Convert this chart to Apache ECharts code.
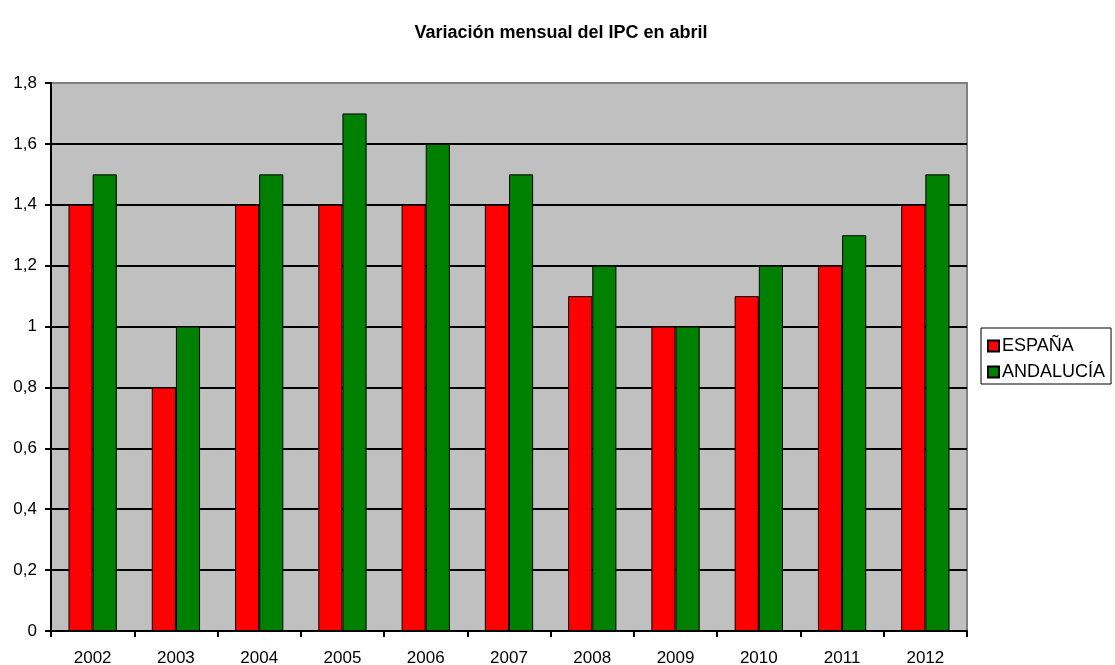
<!DOCTYPE html>
<html>
<head>
<meta charset="utf-8">
<script src="https://cdn.jsdelivr.net/npm/echarts@6/dist/echarts.min.js"></script>
<style>
  html, body { margin: 0; padding: 0; background: #fff; }
  #chart { width: 1115px; height: 665px; }
</style>
</head>
<body>
<div id="chart"></div>
<script>
var years = ['2002', '2003', '2004', '2005', '2006', '2007', '2008', '2009', '2010', '2011', '2012'];
var espana = [1.4, 0.8, 1.4, 1.4, 1.4, 1.4, 1.1, 1.0, 1.1, 1.2, 1.4];
var andalucia = [1.5, 1.0, 1.5, 1.7, 1.6, 1.5, 1.2, 1.0, 1.2, 1.3, 1.5];

var chart = echarts.init(document.getElementById('chart'), null, {renderer: 'canvas'});

var font = 'Liberation Sans, Arial, sans-serif';
// last grid line (top, at 1,8) is the gray plot border in the original
var lineColors = ['#000', '#000', '#000', '#000', '#000', '#000', '#000', '#000', '#000', '#808080'];

chart.setOption({
    animation: false,
    textStyle: {fontFamily: font},
    title: {
        text: 'Variación mensual del IPC en abril',
        left: 556,
        textAlign: 'center',
        top: 19,
        textStyle: {fontSize: 18, fontWeight: 'bold', color: '#000', fontFamily: font}
    },
    legend: {
        orient: 'vertical',
        left: 981,
        top: 328,
        itemWidth: 11,
        itemHeight: 11,
        itemGap: 8,
        padding: [9, 6, 3, 6],
        borderColor: '#000',
        borderWidth: 1,
        icon: 'rect',
        textStyle: {fontSize: 18, color: '#000', fontFamily: font, padding: [0, 0, 0, -2]},
        data: ['ESPAÑA', 'ANDALUCÍA']
    },
    grid: {
        left: 51,
        top: 83,
        width: 916,
        height: 548,
        containLabel: false,
        outerBoundsMode: 'none',
        show: true,
        backgroundColor: '#C0C0C0',
        borderColor: '#808080',
        borderWidth: 2
    },
    xAxis: {
        type: 'category',
        data: years,
        axisLine: {lineStyle: {color: '#000', width: 2}},
        axisTick: {show: true, length: 6, lineStyle: {color: '#000', width: 2}},
        axisLabel: {fontSize: 17, color: '#000', margin: 19, fontFamily: font}
    },
    yAxis: {
        type: 'value',
        min: 0,
        max: 1.8,
        interval: 0.2,
        axisLine: {show: true, lineStyle: {color: '#000', width: 2}},
        axisTick: {show: true, length: 6, lineStyle: {color: '#000', width: 2}},
        splitLine: {lineStyle: {color: lineColors, width: 2}},
        axisLabel: {
            fontSize: 17, color: '#000', margin: 14, fontFamily: font,
            formatter: function (v) { return String(Math.round(v * 10) / 10).replace('.', ','); }
        }
    },
    series: [
        {
            name: 'ESPAÑA',
            type: 'bar',
            data: espana,
            barGap: '0%',
            barCategoryGap: '42%',
            itemStyle: {color: '#FF0000', borderColor: '#000', borderWidth: 1}
        },
        {
            name: 'ANDALUCÍA',
            type: 'bar',
            data: andalucia,
            barGap: '0%',
            barCategoryGap: '42%',
            itemStyle: {color: '#008000', borderColor: '#000', borderWidth: 1}
        }
    ]
});
</script>
</body>
</html>
